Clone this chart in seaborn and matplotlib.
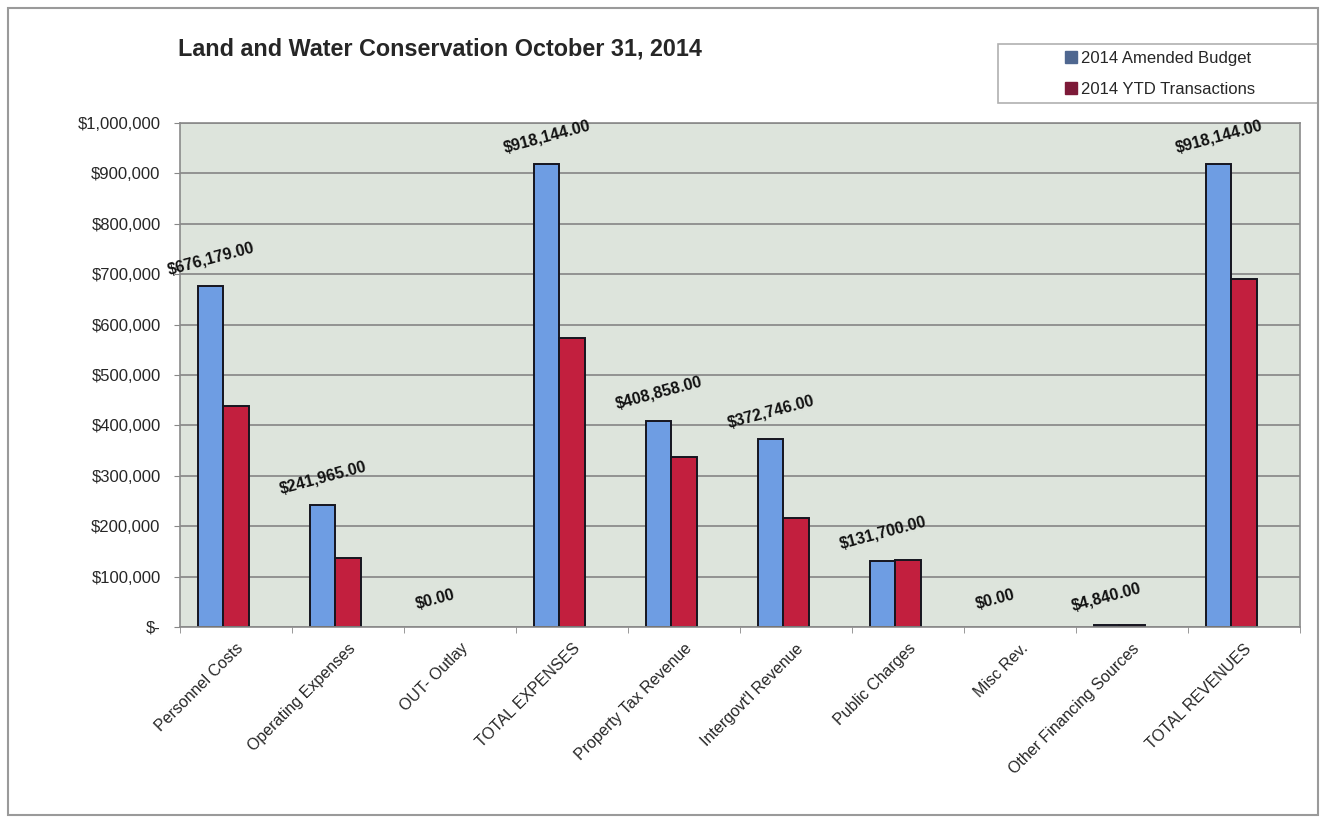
"""Land and Water Conservation budget vs YTD bar chart (Oct 31, 2014)."""
import matplotlib
matplotlib.use("Agg")
import matplotlib.pyplot as plt
from matplotlib.patches import Patch, Rectangle
from matplotlib.ticker import FuncFormatter, FixedLocator
import numpy as np
import pandas as pd
import seaborn as sns

# --- data ---
categories = [
    "Personnel Costs", "Operating Expenses", "OUT- Outlay", "TOTAL EXPENSES",
    "Property Tax Revenue", "Intergovt'l Revenue", "Public Charges", "Misc Rev.",
    "Other Financing Sources", "TOTAL REVENUES",
]
amended_budget = [676179, 241965, 0, 918144, 408858, 372746, 131700, 0, 4840, 918144]
ytd_transactions = [438000, 137000, 0, 573000, 338000, 216000, 132500, 0, 3500, 690000]
series_names = ["2014 Amended Budget", "2014 YTD Transactions"]
y_ticks = [0, 100000, 200000, 300000, 400000, 500000, 600000, 700000, 800000, 900000, 1000000]

BLUE = "#6e9de3"
RED = "#c21f3e"
BLUE_KEY = "#4f6790"
RED_KEY = "#7d1a38"

df = pd.DataFrame({
    "category": categories * 2,
    "series": [series_names[0]] * len(categories) + [series_names[1]] * len(categories),
    "value": amended_budget + ytd_transactions,
})

sns.set_style("white")
plt.rcParams["font.family"] = ["Liberation Sans", "DejaVu Sans"]

fig = plt.figure(figsize=(13.27, 8.19), dpi=100)
ax = fig.add_axes([180 / 1327, 1 - 627 / 819, 1120 / 1327, 504 / 819])
ax.set_facecolor("#dde4dc")

# Excel-style chart keeps an empty third slot in each group
hue_order = series_names + ["(empty)"]
sns.barplot(
    data=df, x="category", y="value", hue="series", hue_order=hue_order,
    palette={series_names[0]: BLUE, series_names[1]: RED, "(empty)": "#000000"},
    width=0.67, gap=0, saturation=1, edgecolor="#15151f", linewidth=1.4, ax=ax,
    legend=False, errorbar=None,
)

# hide edges on zero-height bars
for p in ax.patches:
    if p.get_height() == 0:
        p.set_linewidth(0)

# value labels above budget bars
for p, v in zip(ax.containers[0], amended_budget):
    ax.annotate(
        f"${v:,.2f}", xy=(p.get_x() + p.get_width() / 2, v),
        xytext=(0, 20), textcoords="offset points",
        ha="center", va="center", rotation=15,
        fontsize=11.5, fontweight="bold", color="#111111",
    )

ax.set_xlim(-0.5, len(categories) - 0.5)
ax.set_ylim(0, 1000000)
ax.yaxis.set_major_locator(FixedLocator(y_ticks))
ax.yaxis.set_major_formatter(FuncFormatter(lambda v, _: "$-" if v == 0 else f"${v:,.0f}"))
ax.yaxis.grid(True, color="#858585", linewidth=1.2)
ax.set_axisbelow(True)
ax.set_xlabel("")
ax.set_ylabel("")

ax.set_xticks(range(len(categories)))
ax.set_xticklabels(categories, rotation=45, ha="right", rotation_mode="anchor", fontsize=11.5)
ax.xaxis.set_minor_locator(FixedLocator(np.arange(-0.5, len(categories), 1)))
ax.tick_params(axis="x", which="major", length=0, pad=10)
ax.tick_params(axis="x", which="minor", length=4, color="#888888", direction="out", bottom=True)
ax.tick_params(axis="y", length=4, color="#888888", direction="out", left=True, labelsize=12, pad=10)

for s in ax.spines.values():
    s.set_color("#8a8a8a")
    s.set_linewidth(1.2)

fig.text(178 / 1327, 1 - 49 / 819, "Land and Water Conservation October 31, 2014",
         fontsize=16.8, fontweight="bold", va="center", ha="left")

# legend box
fig.patches.append(Rectangle((998 / 1327, 1 - 103 / 819), 320 / 1327, 59 / 819,
                             transform=fig.transFigure, fill=False,
                             edgecolor="#b0b0b0", linewidth=1.2))
handles = [Patch(facecolor=BLUE_KEY, edgecolor=BLUE_KEY), Patch(facecolor=RED_KEY, edgecolor=RED_KEY)]
fig.legend(handles, series_names, loc="center",
           bbox_to_anchor=(1160 / 1327, 1 - 74 / 819),
           frameon=False, fontsize=12, handlelength=0.7, handleheight=0.7,
           handletextpad=0.25, labelspacing=0.95)

# outer chart border
fig.patches.append(Rectangle((8 / 1327, 4 / 819), 1310 / 1327, 807 / 819,
                             transform=fig.transFigure, fill=False,
                             edgecolor="#9a9a9a", linewidth=1.5))

fig.savefig("out.png", dpi=100)
